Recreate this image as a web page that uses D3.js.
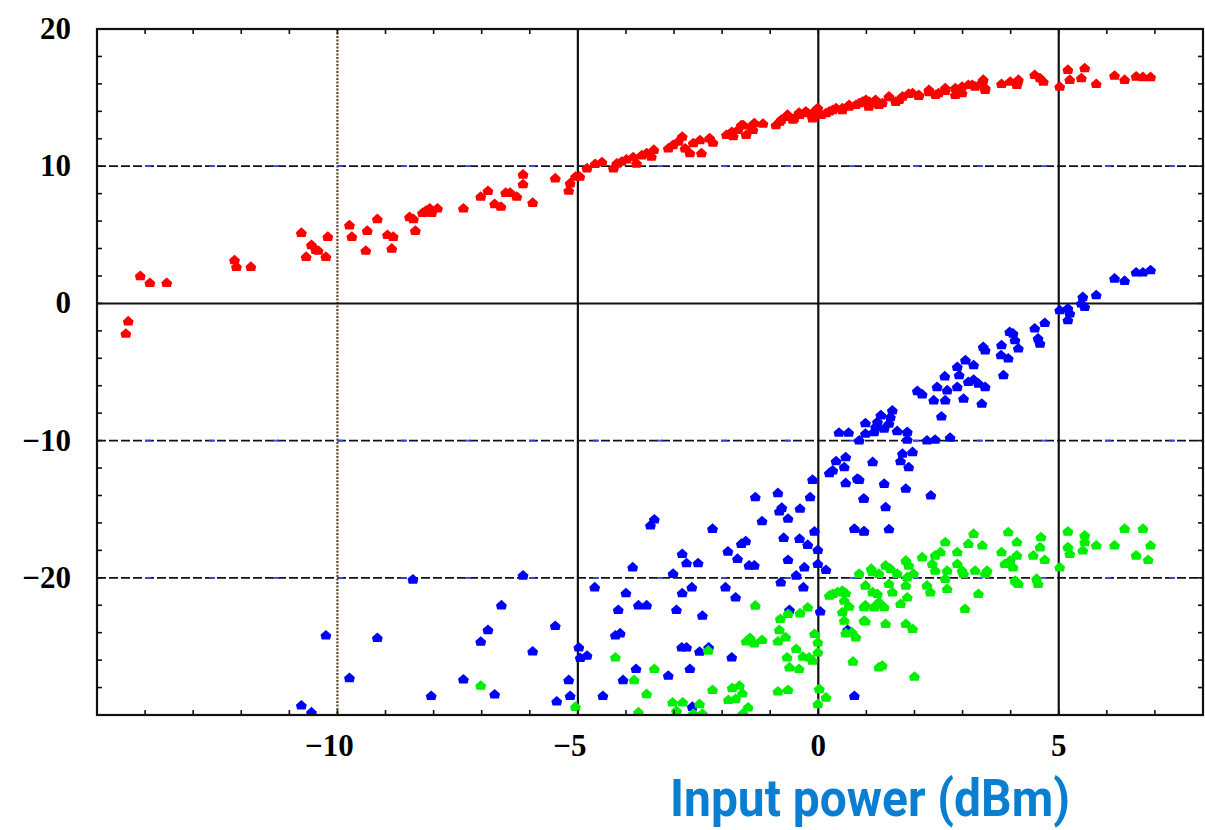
<!DOCTYPE html>
<html lang="en">
  <head>
    <meta charset="utf-8">
    <title>Output vs input power</title>
    <script type="text/javascript" src="https://d3js.org/d3.v7.min.js" charset="utf-8"></script>
    <style type="text/css">
      body { margin: 0; background: white; }
      .tick-label { font-family: "Liberation Serif", serif; font-weight: bold; font-size: 31px; fill: black; }
      .title { font-family: Roboto, sans-serif; font-weight: bold; font-size: 52px; fill: #0a7fd2; }
    </style>
  </head>
  <body>
<script type="text/javascript">

// data: [input power dBm, output dB]
var red = [
  [-14.1,2.0],[-13.9,1.5],[-13.55,1.5],[-14.35,-1.3],[-14.4,-2.2],
  [-12.14,3.16],[-12.1,2.67],[-11.8,2.67],
  [-10.75,5.15],[-10.65,3.4],[-10.54,4.26],[-10.45,3.9],[-10.4,3.85],[-10.24,3.4],[-10.2,4.86],
  [-9.75,5.7],[-9.7,4.86],[-9.41,3.85],[-9.38,5.3],[-9.17,6.15],[-8.96,5.0],[-8.84,4.86],[-8.87,4.0],
  [-8.5,6.3],[-8.42,6.15],[-8.38,5.3],[-8.23,6.6],[-8.16,6.76],[-8.08,6.93],[-8.04,6.6],[-7.92,6.93],
  [-7.38,6.93],[-7.02,7.78],[-6.87,8.2],
  [-6.73,7.25],[-6.6,7.05],[-6.5,8.07],[-6.41,8.07],[-6.27,7.78],[-6.14,9.4],[-6.14,8.69],[-5.94,7.34],
  [-5.47,9.12],[-5.19,8.22],[-5.16,8.76],[-5.05,9.24],[-4.96,9.24],[-4.81,9.85],[-4.64,10.17],[-4.5,10.3],
  [-4.26,9.85],[-4.19,10.2],[-4.09,10.34],[-3.99,10.5],[-3.85,10.66],[-3.78,10.2],[-3.67,10.8],[-3.57,10.95],[-3.47,10.7],[-3.42,11.2],
  [-3.12,11.3],[-3.02,11.55],[-2.91,11.8],[-2.83,12.16],[-2.77,11.3],[-2.67,10.95],[-2.6,11.68],[-2.46,11.9],[-2.43,10.95],[-2.26,12.04],[-2.19,11.72],
  [-1.91,12.28],[-1.77,12.2],[-1.67,12.65],[-1.56,13.0],[-1.5,12.28],[-1.36,12.65],[-1.33,13.14],[-1.15,13.1],
  [-0.88,13.0],[-0.77,13.4],[-0.64,13.75],[-0.5,13.5],[-0.39,13.75],[-0.22,13.87],[-0.12,13.5],[-0.01,14.23],
  [0.16,13.87],[0.3,14.1],[0.5,14.23],[0.64,14.35],[0.85,14.6],[0.99,14.84],[1.2,14.7],
  [1.06,14.7],[1.26,14.47],[1.47,15.04],[1.68,14.84],[1.88,15.28],[2.09,15.13],[2.3,15.57],[2.5,15.33],[2.64,15.69],[2.85,15.69],[2.99,15.33],[3.12,15.93],[3.26,15.81],[3.43,16.3],[3.47,15.57],
  [3.81,16.0],[3.99,16.17],[4.13,15.93],[4.16,16.3],[4.5,16.66],[4.61,16.42],[4.68,16.17],[5.02,15.81],[5.19,17.03],[5.23,16.3],[5.47,16.42],[5.54,17.15],[5.78,16.0],[6.16,16.6],[6.37,16.3],[6.61,16.54],[6.75,16.5],[6.91,16.5],
  [-1.8,12.5],[-1.6,13.0],[-1.4,12.9],[-0.8,13.25],[-0.67,13.6],[-0.53,13.4],[-0.4,13.9],[-0.26,14.0],[-0.12,13.6],[-0.05,14.1],[0.06,13.75],[0.23,14.0],[0.37,14.23],[0.5,14.1],[0.64,14.47],[0.78,14.47],[0.92,14.7],[1.05,14.35],[1.19,14.84],[1.33,14.6],[1.47,15.08],[1.61,14.7],[1.75,15.08],[1.96,15.33],[2.09,15.2],[2.3,15.4],[2.44,15.2],[2.64,15.5],[2.85,15.2],[2.99,15.8],[3.2,15.93],[3.4,16.1],[3.47,15.7]
];

var blue = [
  [-8.43,-20.12],[-10.24,-24.2],[-9.17,-24.38],[-9.75,-27.3],[-10.75,-29.3],[-10.54,-29.8],[-8.05,-28.6],[-7.38,-27.4],[-7.02,-24.65],[-6.87,-23.8],
  [-6.59,-22.0],[-6.73,-28.5],[-6.14,-19.83],[-5.94,-25.36],[-5.47,-23.5],[-5.44,-29.0],[-5.19,-27.45],[-5.16,-28.6],[-4.98,-25.07],[-4.95,-25.84],
  [-4.81,-25.67],[-4.65,-20.69],[-4.48,-28.6],[-4.22,-24.2],[-4.12,-24.04],[-4.16,-22.34],[-4.0,-21.12],[-4.06,-27.45],[-3.86,-19.23],[-3.79,-26.64],
  [-3.74,-22.0],[-3.57,-22.0],[-3.49,-16.18],[-3.41,-15.74],[-3.12,-27.13],[-3.02,-19.7],[-2.95,-22.34],[-2.83,-18.25],[-2.83,-21.12],[-2.84,-25.07],
  [-2.74,-25.07],[-2.74,-18.93],[-2.67,-26.64],[-2.63,-20.69],[-2.62,-29.4],[-2.5,-18.93],[-2.47,-25.38],[-2.41,-22.75],[-2.28,-25.07],[-2.2,-16.42],
  [-1.93,-20.69],[-1.88,-18.08],[-1.8,-25.8],[-1.72,-21.42],[-1.68,-18.61],[-1.6,-17.52],[-1.51,-17.33],[-1.44,-19.1],[-1.33,-19.1],[-1.31,-14.12],
  [-1.17,-15.87],[-0.84,-13.82],[-0.81,-15.16],[-0.78,-20.32],[-0.76,-14.89],[-0.72,-17.08],[-0.63,-15.69],[-0.63,-18.69],[-0.6,-22.34],[-0.46,-19.83],
  [-0.39,-17.15],[-0.38,-14.96],[-0.31,-20.69],[-0.29,-19.23],[-0.22,-17.59],[-0.17,-14.12],[-0.12,-12.85],[-0.08,-16.62],[-0.01,-17.96],[-0.01,-18.98],
  [0.04,-22.44],[0.16,-19.42],[0.23,-12.36],[0.3,-12.17],[0.37,-11.49],[0.43,-9.42],[0.54,-11.93],[0.57,-13.09],[0.57,-11.2],[0.63,-9.42],
  [0.61,-23.8],[0.75,-28.6],[0.75,-16.42],[0.81,-12.77],[0.85,-9.98],[0.94,-14.23],[0.95,-16.6],[0.98,-8.72],[0.98,-9.49],[1.13,-11.56],[1.19,-9.0],
  [1.16,-9.37],[1.23,-8.64],[1.3,-8.15],[1.37,-9.12],[1.5,-8.28],[1.54,-7.79],[1.47,-8.76],[1.64,-9.3],[1.85,-9.37],[1.85,-9.93],
  [2.26,-9.98],[2.43,-9.93],[2.74,-9.78],[1.75,-10.95],[1.96,-10.83],[1.71,-11.49],[1.88,-11.93],[0.85,-12.85],[1.37,-13.14],[1.82,-13.5],
  [2.34,-13.99],[0.95,-14.23],[1.4,-14.85],[0.95,-16.62],[1.47,-16.45],
  [2.06,-6.38],[2.16,-6.62],[2.4,-7.06],[2.47,-6.09],[2.64,-7.06],[2.56,-8.23],[2.63,-5.31],[2.68,-6.33],[2.89,-4.63],[2.93,-5.23],
  [2.89,-6.09],[3.02,-6.94],[3.06,-4.14],[3.23,-4.5],[3.12,-5.72],[3.23,-5.55],[3.33,-5.84],[3.47,-6.09],[3.4,-7.3],[3.43,-3.17],
  [3.47,-3.41],[3.81,-3.04],[3.8,-3.77],[3.85,-5.23],[3.95,-4.01],[3.98,-2.07],[4.05,-2.19],[4.09,-2.68],[4.16,-3.28],[4.5,-1.82],
  [4.57,-2.55],[4.61,-2.92],[4.71,-1.42],[5.02,-0.49],[5.19,-0.36],[5.19,-1.22],[5.23,-0.73],[5.47,0.0],[5.5,0.48],[5.54,-0.25],
  [5.78,0.61],[6.16,1.82],[6.37,1.65],[6.61,2.26],[6.75,2.26],[6.91,2.43]
];

var green = [
  [-7.02,-27.86],[-5.05,-29.4],[-4.22,-25.8],[-3.83,-27.45],[-3.74,-29.8],[-3.57,-28.47],[-3.41,-26.64],[-3.03,-29.08],[-2.95,-29.7],[-2.82,-29.08],
  [-2.6,-29.9],[-2.47,-29.2],[-2.41,-29.9],[-2.29,-25.3],[-2.2,-28.17],[-1.87,-28.9],[-1.79,-28.03],[-1.72,-28.83],[-1.64,-27.86],[-1.58,-28.42],
  [-1.57,-29.9],[-1.46,-29.44],[-1.5,-24.63],[-1.42,-24.38],[-1.33,-24.77],[-1.17,-24.52],[-1.31,-22.02],[-0.84,-28.28],[-0.63,-28.17],[-0.84,-24.63],
  [-0.81,-23.8],[-0.79,-22.99],[-0.68,-24.33],[-0.63,-22.63],[-0.65,-25.8],[-0.6,-26.52],[-0.46,-25.18],[-0.4,-26.64],[-0.38,-22.58],[-0.32,-25.74],
  [-0.22,-22.15],[-0.19,-25.8],[-0.12,-26.04],[-0.08,-24.09],[-0.01,-24.7],[-0.01,-25.43],[0.02,-28.1],[0.16,-28.72],[-0.01,-29.2],[0.23,-21.29],
  [0.3,-21.17],[0.4,-21.05],[0.5,-20.93],[0.57,-21.12],[0.54,-21.66],[0.64,-22.1],[0.5,-22.5],[0.54,-23.12],[0.57,-24.04],[0.7,-23.97],
  [0.78,-24.33],[0.72,-26.1],[0.85,-19.7],[0.98,-20.56],[0.95,-22.14],[0.98,-23.17],[1.13,-19.59],[1.16,-22.14],[1.23,-21.17],[1.26,-26.52],
  [1.1,-19.34],[1.33,-26.4],[2.0,-27.2],
  [1.26,-19.7],[1.4,-19.1],[1.5,-19.34],[1.64,-19.7],[1.82,-18.74],[1.88,-19.1],[1.85,-19.96],[1.98,-19.7],[2.16,-18.5],[2.37,-18.98],
  [2.43,-18.37],[2.54,-18.13],[2.43,-19.47],[2.64,-17.4],[2.68,-19.47],[2.64,-20.07],[2.89,-18.13],[2.89,-18.98],[2.99,-19.47],[3.02,-19.7],
  [3.12,-17.52],[3.23,-16.79],[3.26,-19.47],[3.41,-17.64],[3.47,-19.7],[3.51,-19.47],[3.81,-18.13],[3.95,-16.67],[4.13,-17.4],[3.88,-18.98],
  [3.99,-18.74],[4.13,-18.37],[4.05,-19.23],[4.09,-20.2],[4.16,-20.44],[4.47,-18.37],[4.61,-17.77],[4.63,-17.03],[4.71,-18.69],[4.54,-20.07],
  [4.57,-20.44],[5.02,-19.23],[5.19,-16.62],[5.19,-17.77],[5.23,-18.25],[5.5,-18.0],[5.54,-16.91],[5.54,-17.4],[5.78,-17.64],[6.16,-17.64],
  [6.37,-16.42],[6.61,-18.37],[6.75,-16.42],[6.86,-18.69],[6.91,-17.64],
  [0.98,-22.0],[1.16,-22.14],[1.26,-21.78],[1.37,-22.14],[1.13,-21.05],[1.47,-20.44],[1.54,-21.05],[1.71,-21.9],[1.82,-20.56],[1.85,-21.42],
  [0.95,-23.12],[1.4,-23.36],[1.82,-23.36],[1.96,-23.72],[2.26,-20.56],[2.33,-21.05],[2.68,-20.8],[3.05,-22.26],[3.33,-21.17],[4.13,-20.32]
];

var xTickValues = [-10, -5, 0, 5];
var yTickValues = [20, 10, 0, -10, -20];
var titleText = "Input power (dBm)";

var width = 1205, height = 830;
var margin = {top: 29, right: 2, bottom: 115, left: 97};

var svg = d3.select("body").append("svg")
    .attr("width", width)
    .attr("height", height);

var x = d3.scaleLinear()
    .domain([-15, 8])
    .range([margin.left, width - margin.right]);
var y = d3.scaleLinear()
    .domain([-30, 20])
    .range([height - margin.bottom, margin.top]);

var x0 = x.range()[0], x1 = x.range()[1];
var y0 = y.range()[0], y1 = y.range()[1];

// grid: vertical lines
svg.append("line")
    .attr("x1", x(-10)).attr("x2", x(-10))
    .attr("y1", y1).attr("y2", y0)
    .attr("stroke", "#5e4524").attr("stroke-width", 2.2)
    .attr("stroke-dasharray", "2,1.5");
svg.selectAll(".vgrid").data([-5, 0, 5]).join("line")
    .attr("class", "vgrid")
    .attr("x1", d => x(d)).attr("x2", d => x(d))
    .attr("y1", y1).attr("y2", y0)
    .attr("stroke", "#111").attr("stroke-width", 2.2);

// horizontal lines
svg.append("line")
    .attr("x1", x0).attr("x2", x1)
    .attr("y1", y(0)).attr("y2", y(0))
    .attr("stroke", "#111").attr("stroke-width", 2);
var dashed = svg.selectAll(".hgrid").data([10, -10, -20]).join("g").attr("class", "hgrid");
dashed.append("line")
    .attr("x1", x0).attr("x2", x1)
    .attr("y1", d => y(d)).attr("y2", d => y(d))
    .attr("stroke", "#111").attr("stroke-width", 1.8)
    .attr("stroke-dasharray", "9,3");
dashed.append("line")
    .attr("x1", x0 + 48).attr("x2", x1)
    .attr("y1", d => y(d)).attr("y2", d => y(d))
    .attr("stroke", "#3344ee").attr("stroke-width", 1.8)
    .attr("stroke-dasharray", "6,58");

// points
var marker = "M0,-5.4L5.4,-0.6L4.2,4.2L-4.2,4.2L-5.4,-0.6Z";
var series = [[red, "#ff0000"], [blue, "#0000ff"], [green, "#00ee00"]];
var clip = svg.append("clipPath").attr("id", "clip")
  .append("rect")
    .attr("x", x0).attr("y", y1)
    .attr("width", x1 - x0).attr("height", y0 - y1);
var plot = svg.append("g").attr("clip-path", "url(#clip)");
series.forEach(function(s) {
  plot.append("g").selectAll("path").data(s[0]).join("path")
      .attr("d", marker)
      .attr("transform", d => "translate(" + x(d[0]) + "," + y(d[1]) + ")")
      .attr("fill", s[1]);
});

// frame and inward ticks
svg.append("rect")
    .attr("x", x0).attr("y", y1)
    .attr("width", x1 - x0).attr("height", y0 - y1)
    .attr("fill", "none").attr("stroke", "#111").attr("stroke-width", 2.2);

var xMinor = d3.range(-14, 8, 1);
var yMinor = d3.range(-28, 20, 2);
svg.append("g").selectAll("line").data(xMinor).join("line")
    .attr("x1", d => x(d)).attr("x2", d => x(d))
    .attr("y1", y0).attr("y2", y0 - 5)
    .attr("stroke", "#111").attr("stroke-width", 1.6);
svg.append("g").selectAll("line").data(xMinor).join("line")
    .attr("x1", d => x(d)).attr("x2", d => x(d))
    .attr("y1", y1).attr("y2", y1 + 5)
    .attr("stroke", "#111").attr("stroke-width", 1.6);
svg.append("g").selectAll("line").data(yMinor).join("line")
    .attr("x1", x0).attr("x2", x0 + 5)
    .attr("y1", d => y(d)).attr("y2", d => y(d))
    .attr("stroke", "#111").attr("stroke-width", 1.6);
svg.append("g").selectAll("line").data(yMinor).join("line")
    .attr("x1", x1).attr("x2", x1 - 5)
    .attr("y1", d => y(d)).attr("y2", d => y(d))
    .attr("stroke", "#111").attr("stroke-width", 1.6);

// tick labels
var fmt = d => d < 0 ? "\u2212" + Math.abs(d) : String(d);
svg.append("g").selectAll("text").data(xTickValues).join("text")
    .attr("class", "tick-label")
    .attr("x", d => x(d) - (d < 0 ? 8 : 0))
    .attr("y", y0 + 41)
    .attr("text-anchor", "middle")
    .text(fmt);
svg.append("g").selectAll("text").data(yTickValues).join("text")
    .attr("class", "tick-label")
    .attr("x", 71)
    .attr("y", d => y(d) + 10)
    .attr("text-anchor", "end")
    .text(fmt);

// axis title
svg.append("text")
    .attr("class", "title")
    .attr("x", 670)
    .attr("y", 816)
    .attr("textLength", 400)
    .attr("lengthAdjust", "spacingAndGlyphs")
    .text(titleText);

</script>
  </body>
</html>
